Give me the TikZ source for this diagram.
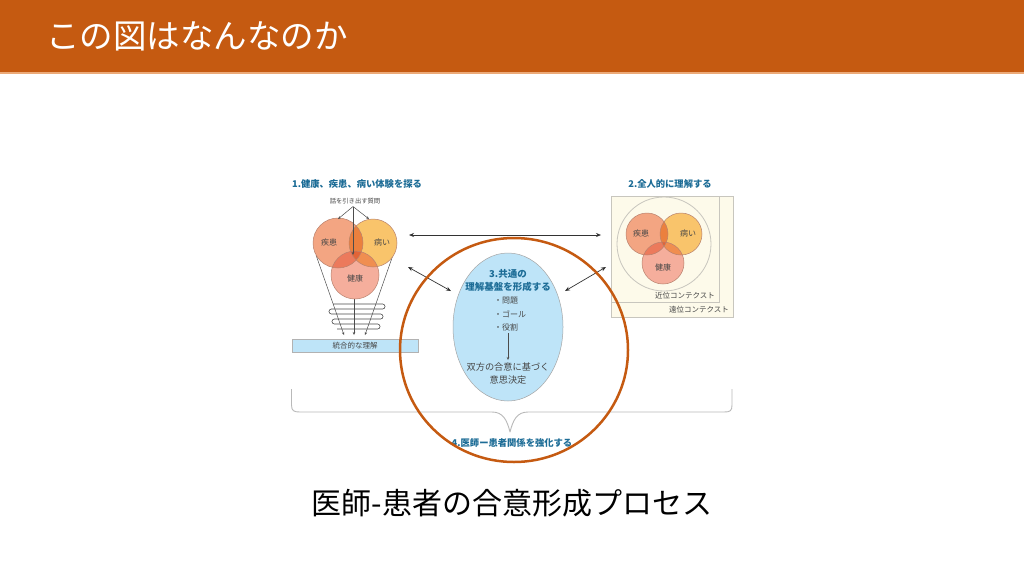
\documentclass[tikz,border=0pt]{standalone}
\usepackage{fontspec}
\setmainfont{Noto Sans CJK JP}
\usetikzlibrary{arrows.meta,shapes.geometric}
\definecolor{hdr}{RGB}{197,90,17}
\definecolor{hdrline}{RGB}{236,170,120}
\definecolor{teal}{RGB}{28,108,150}
\definecolor{txtgray}{RGB}{70,70,70}
\definecolor{cShik}{RGB}{243,165,130}
\definecolor{cYam}{RGB}{249,196,107}
\definecolor{cKen}{RGB}{245,174,156}
\definecolor{cSY}{RGB}{235,128,62}
\definecolor{cSK}{RGB}{236,122,92}
\definecolor{cYK}{RGB}{240,142,80}
\definecolor{cAll}{RGB}{226,100,55}
\definecolor{cOut}{RGB}{185,130,110}
\definecolor{boxfill}{RGB}{253,250,234}
\definecolor{boxline}{RGB}{200,198,190}
\definecolor{ellfill}{RGB}{190,228,248}
\definecolor{barfill}{RGB}{190,228,248}
\definecolor{brace}{RGB}{185,185,185}
\tikzset{
  ttl/.style={text=teal, font=\fontsize{9.3}{11}\selectfont\bfseries, inner sep=0pt},
  small/.style={text=txtgray, font=\fontsize{8}{10}\selectfont, inner sep=0pt},
  clab/.style={text=txtgray, font=\fontsize{8}{10}\selectfont, inner sep=0pt},
  vout/.style={draw=cOut, line width=0.5pt},
  dbl/.style={draw=black!80, line width=0.7pt, {Stealth[length=5pt,width=4pt]}-{Stealth[length=5pt,width=4pt]}},
  thinarr/.style={draw=black!70, line width=0.5pt, -{Stealth[length=3pt,width=2.5pt]}},
}
\begin{document}
\begin{tikzpicture}[x=1pt,y=-1pt]
\useasboundingbox (0,0) rectangle (1024,576);
\fill[white] (0,0) rectangle (1024,576);
% header
\fill[hdr] (0,0) rectangle (1024,72);
\fill[hdrline] (0,72) rectangle (1024,73.5);
\node[anchor=west, text=white, font=\fontsize{33.5}{34}\selectfont, inner sep=0pt] (title) at (46,36) {この図はなんなのか};

% ===== left section =====
\node[ttl] (t1) at (357,184) {1.健康、疾患、病い体験を探る};
\node[text=txtgray, font=\fontsize{6.3}{8}\selectfont, inner sep=0pt] (q) at (355,201) {話を引き出す質問};
\coordinate (qo) at (353,206.5);
% funnel lines
\draw[thinarr] (316,255) -- (344,335);
\draw[thinarr] (354,298) -- (354,335);
\draw[thinarr] (393,255) -- (365,335);
% spring
\draw[draw=black!70, line width=0.6pt, rounded corners=2.4pt]
  (333,304) -- (385,304) -- (385,309) -- (329,309) -- (329,314) -- (383,314) -- (383,319) -- (332,319)
  -- (332,324) -- (380,324) -- (380,329) -- (337,329);
% venn left
\fill[cShik] (338,243) circle[radius=25];
\fill[cYam] (373,243) circle[radius=24];
\fill[cKen] (355,275) circle[radius=24];
\begin{scope}\clip (338,243) circle[radius=25]; \fill[cSY] (373,243) circle[radius=24]; \fill[cSK] (355,275) circle[radius=24];\end{scope}
\begin{scope}\clip (373,243) circle[radius=24]; \fill[cYK] (355,275) circle[radius=24];\end{scope}
\begin{scope}\clip (338,243) circle[radius=25]; \clip (373,243) circle[radius=24]; \fill[cAll] (355,275) circle[radius=24];\end{scope}
\node[circle, vout, minimum size=50pt, inner sep=0pt] (ls) at (338,243) {};
\node[circle, vout, minimum size=48pt, inner sep=0pt] (ly) at (373,243) {};
\node[circle, vout, minimum size=48pt, inner sep=0pt] (lk) at (355,275) {};
\node[clab] at (329,242) {疾患};
\node[clab] at (382,242) {病い};
\node[clab] at (355,278) {健康};
\draw[thinarr] (qo) -- (338,219);
\draw[thinarr] (qo) -- (369,219);
\draw[thinarr] (qo) -- (353,255);
% bar
\node[draw=black!30, line width=0.4pt, fill=barfill, minimum width=126pt, minimum height=13pt, inner sep=0pt,
  text=txtgray, font=\fontsize{7.5}{9}\selectfont] (integ) at (355,345.5) {統合的な理解};

% ===== right section =====
\node[ttl] (t2) at (670,184) {2.全人的に理解する};
\draw[draw=boxline, fill=boxfill, line width=0.6pt] (611,196) rectangle (733,317);
\draw[draw=boxline, fill=boxfill, line width=0.6pt] (611,196) rectangle (719,302);
\node[small, anchor=east, font=\fontsize{7.5}{9}\selectfont] (far) at (729,310) {遠位コンテクスト};
\node[small, anchor=east, font=\fontsize{7.5}{9}\selectfont] (near) at (715,296) {近位コンテクスト};
\draw[draw=boxline, line width=0.8pt] (664,244) circle[radius=47];
\fill[cShik] (647,234) circle[radius=21];
\fill[cYam] (681,234) circle[radius=21];
\fill[cKen] (663,263) circle[radius=21];
\begin{scope}\clip (647,234) circle[radius=21]; \fill[cSY] (681,234) circle[radius=21]; \fill[cSK] (663,263) circle[radius=21];\end{scope}
\begin{scope}\clip (681,234) circle[radius=21]; \fill[cYK] (663,263) circle[radius=21];\end{scope}
\begin{scope}\clip (647,234) circle[radius=21]; \clip (681,234) circle[radius=21]; \fill[cAll] (663,263) circle[radius=21];\end{scope}
\node[circle, vout, minimum size=42pt, inner sep=0pt] (rs) at (647,234) {};
\node[circle, vout, minimum size=42pt, inner sep=0pt] (ry) at (681,234) {};
\node[circle, vout, minimum size=42pt, inner sep=0pt] (rk) at (663,263) {};
\node[clab] at (641,233) {疾患};
\node[clab] at (688,233) {病い};
\node[clab] at (663,267) {健康};

% ===== middle =====
\node[ellipse, draw=black!35, line width=0.5pt, fill=ellfill, minimum width=110pt, minimum height=148pt, inner sep=0pt] (common) at (508,327) {};
\node[ttl, font=\fontsize{9.5}{11}\selectfont\bfseries] (t3a) at (508,274) {3.共通の};
\node[ttl, font=\fontsize{9.5}{11}\selectfont\bfseries] (t3b) at (508,287) {理解基盤を形成する};
\node[small, anchor=west] (i1) at (494,301) {・問題};
\node[small, anchor=west] (i2) at (494,314) {・ゴール};
\node[small, anchor=west] (i3) at (494,327) {・役割};
\node[text=txtgray, font=\fontsize{9.2}{11}\selectfont, inner sep=0pt] (d1) at (508,367) {双方の合意に基づく};
\node[text=txtgray, font=\fontsize{9.2}{11}\selectfont, inner sep=0pt] (d2) at (508,380) {意思決定};
\coordinate (va) at (508,333);
\coordinate (vb) at (508,360);
\draw[thinarr] (va) -- (vb);

% double arrows
\coordinate (hl) at (409,235);
\coordinate (hr) at (601,235);
\draw[dbl] (hl) -- (hr);
\coordinate (dl1) at (408,267);
\coordinate (dl2) at (451,291);
\draw[dbl] (dl1) -- (dl2);
\coordinate (dr1) at (565,291);
\coordinate (dr2) at (606,267);
\draw[dbl] (dr1) -- (dr2);

% brace
\draw[draw=brace, line width=0.9pt, line join=round]
  (291.5,389) -- (291.5,405) .. controls (291.5,411) and (294,412) .. (300,412)
  -- (492,412) .. controls (503,412) and (507,420) .. (510,432)
  .. controls (513,420) and (517,412) .. (528,412)
  -- (724,412) .. controls (730,412) and (732,411) .. (732,405) -- (732,389);
\node[ttl, font=\fontsize{9.3}{11}\selectfont\bfseries] (t4) at (512,443) {4.医師ー患者関係を強化する};

% big orange circle
\node[ellipse, draw=hdr, line width=2.5pt, minimum width=228pt, minimum height=224pt, inner sep=0pt] (rel) at (514,350) {};

% caption
\node[text=black, font=\fontsize{30}{31}\selectfont, inner sep=0pt] (cap) at (512,503) {医師-患者の合意形成プロセス};
\end{tikzpicture}
\end{document}
